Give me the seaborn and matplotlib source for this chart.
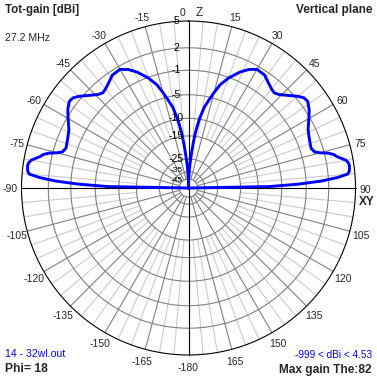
import numpy as np
import matplotlib
matplotlib.use("Agg")
import matplotlib.pyplot as plt
import seaborn as sns

# ---------------- data ----------------
# elevation angle from zenith (deg), left side negative
theta_deg = [-90, -89, -88, -87, -86, -85, -84, -82, -81, -80, -78, -77, -76, -75, -74, -72, -68, -64,
             -60, -57, -54, -52, -50, -47, -44, -42, -40, -37, -34, -30, -27, -24, -20, -17, -15,
             -13, -11, -9, -8, -7, -6, -5, -4, -3, -2, -1, 0,
             1, 2, 3, 4, 5, 6, 7, 8, 9, 11, 13, 15, 17, 20, 24, 27, 30, 34, 37, 40, 42, 44, 47,
             50, 52, 54, 57, 60, 64, 68, 72, 74, 75, 76, 77, 78, 80, 81, 82, 84, 85, 86, 87, 88, 89, 90]
gain_dbi = [-999, -7.6, -2.2, 1.1, 3.05, 4.25, 4.45, 4.53, 4.45, 4.25, 3.33, 3.04, 2.46, 1.47, 0.85, 0.55,
            0.75, 1.1, 1.85, 2.45, 2.85, 2.75, 2.3, 1.45, 0.7, 0.45, 0.6, 1.0, 1.5, 1.6, 1.1, 0.3, -1.1,
            -2.5, -4.0, -5.6, -7.2, -9.9, -12.0, -14.1, -17.5, -21.8, -26.0, -31.0, -38.0, -47.0, -999,
            -47.0, -38.0, -31.0, -26.0, -21.8, -17.5, -14.1, -12.0, -9.9, -7.2, -5.6, -4.0, -2.5, -1.1,
            0.3, 1.1, 1.6, 1.5, 1.0, 0.6, 0.45, 0.7, 1.45, 2.3, 2.75, 2.85, 2.45, 1.85, 1.1, 0.75, 0.55,
            0.85, 1.47, 2.46, 3.04, 3.33, 4.25, 4.45, 4.53, 4.45, 4.25, 3.05, 1.1, -2.2, -7.6, -999]

ring_values = [5, 2, -1, -5, -10, -15, -25, -35, -45]
ring_labels = ["5", "2", "-1", "-5", "-10", "-15", "-25", "-35", "-45"]
angle_ticks = [15, 30, 45, 60, 75, 105, 120, 135, 150, 165, 180,
               -15, -30, -45, -60, -75, -105, -120, -135, -150, -165]
angle_labels = ["15", "30", "45", "60", "75", "105", "120", "135", "150", "165", "-180",
                "-15", "-30", "-45", "-60", "-75", "-105", "-120", "-135", "-150", "-165"]

title_left = "Tot-gain [dBi]"
freq_text = "27.2 MHz"
title_right = "Vertical plane"
file_text = "14 - 32wl.out"
phi_text = "Phi= 18"
range_text = "-999 < dBi < 4.53"
max_text = "Max gain The:82"

# ---------------- style ----------------
sns.set_style("white")
plt.rcParams["font.family"] = ["Liberation Sans", "DejaVu Sans"]

W = 377
fig = plt.figure(figsize=(3.77, 3.77), dpi=100)
ax = fig.add_axes([21.5 / W, 22 / W, 334 / W, 334 / W], projection="polar")

TOP = 5.0
LN = np.log(0.89)


def fwd(g):
    g = np.asarray(g, dtype=float)
    return 0.89 ** ((TOP - g) / 2.0)


def inv(r):
    r = np.clip(np.asarray(r, dtype=float), 1e-300, None)
    return TOP - 2.0 * np.log(r) / LN


ax.set_theta_zero_location("N")
ax.set_theta_direction(-1)
ax.set_rscale("function", functions=(fwd, inv))
ax.set_rlim(-999, TOP)
ax.set_xticks([])
ax.set_yticks([])
ax.grid(False)
ax.spines["polar"].set_visible(False)
ax.set_facecolor("white")

full = np.linspace(0, 2 * np.pi, 721)
lw1 = 0.8

# light spokes every 5 deg
for d in range(-180, 180, 5):
    if d % 15 == 0:
        continue
    ax.plot([np.radians(d)] * 2, [-15, TOP], color="#cccccc", lw=lw1, zorder=1)
# darker spokes every 15 deg
for d in range(-180, 180, 15):
    if d % 90 == 0:
        continue
    ax.plot([np.radians(d)] * 2, [-45, TOP], color="#808080", lw=lw1, zorder=2)
# rings
for v in ring_values[1:]:
    ax.plot(full, [v] * len(full), color="#808080", lw=lw1, zorder=2)
ax.plot(full, [TOP] * len(full), color="black", lw=lw1, zorder=3, clip_on=False)
# main axes
for d in (0, 90, 180, -90):
    ax.plot([np.radians(d)] * 2, [-999, TOP], color="black", lw=lw1, zorder=3, clip_on=False)

# pattern
sns.lineplot(x=np.radians(theta_deg), y=gain_dbi, ax=ax, sort=False, estimator=None,
             color="#0000ff", lw=2.1, zorder=5)
ax.set_xlabel("")
ax.set_ylabel("")
ax.set_xticks([])
ax.set_yticks([])
ax.set_rlim(-999, TOP)

# ring labels on vertical axis
label_shift = {-35: 1.5, -45: -2.0}
for v, lab in zip(ring_values, ring_labels):
    fs = 7.5 if v > -30 else 6.0
    ax.annotate(lab, xy=(0, v), xytext=(-12, label_shift.get(v, 0)), textcoords="offset pixels",
                ha="center", va="center", fontsize=fs, color="black", zorder=6,
                annotation_clip=False)

# angle labels
for d, lab in zip(angle_ticks, angle_labels):
    t = np.radians(d)
    ax.annotate(lab, xy=(t, TOP), xytext=(11 * np.sin(t), 11 * np.cos(t) - 2),
                textcoords="offset pixels", ha="center", va="center", fontsize=7.5,
                annotation_clip=False)
ax.annotate("90", xy=(np.radians(90), TOP), xytext=(9.5, -2), textcoords="offset pixels",
            ha="center", va="center", fontsize=7.5, annotation_clip=False)
ax.annotate("XY", xy=(np.radians(90), TOP), xytext=(11.5, -14), textcoords="offset pixels",
            ha="center", va="center", fontsize=8.5, fontweight="bold", annotation_clip=False)
ax.annotate("-90", xy=(np.radians(-90), TOP), xytext=(-11, -1), textcoords="offset pixels",
            ha="center", va="center", fontsize=7.5, annotation_clip=False)
ax.annotate("0", xy=(0, TOP), xytext=(-5.5, 8), textcoords="offset pixels",
            ha="center", va="center", fontsize=7.5, annotation_clip=False)
ax.annotate("Z", xy=(0, TOP), xytext=(10.5, 8), textcoords="offset pixels",
            ha="center", va="center", fontsize=8.5, annotation_clip=False)


def ftext(x, y, s, **kw):
    fig.text(x / W, 1 - y / W, s, va="center", **kw)


ftext(5, 10, title_left, ha="left", fontsize=8.3, fontweight="bold")
ftext(5, 38, freq_text, ha="left", fontsize=7.6)
ftext(372, 10, title_right, ha="right", fontsize=8.5, fontweight="bold")
ftext(5, 354, file_text, ha="left", fontsize=7.6, color="#0000ff")
ftext(5, 369, phi_text, ha="left", fontsize=8.7, fontweight="bold")
ftext(372, 355, range_text, ha="right", fontsize=7.2, color="#0000ff")
ftext(372, 370, max_text, ha="right", fontsize=8.6, fontweight="bold")

fig.savefig("out.png", dpi=100, facecolor="white")
